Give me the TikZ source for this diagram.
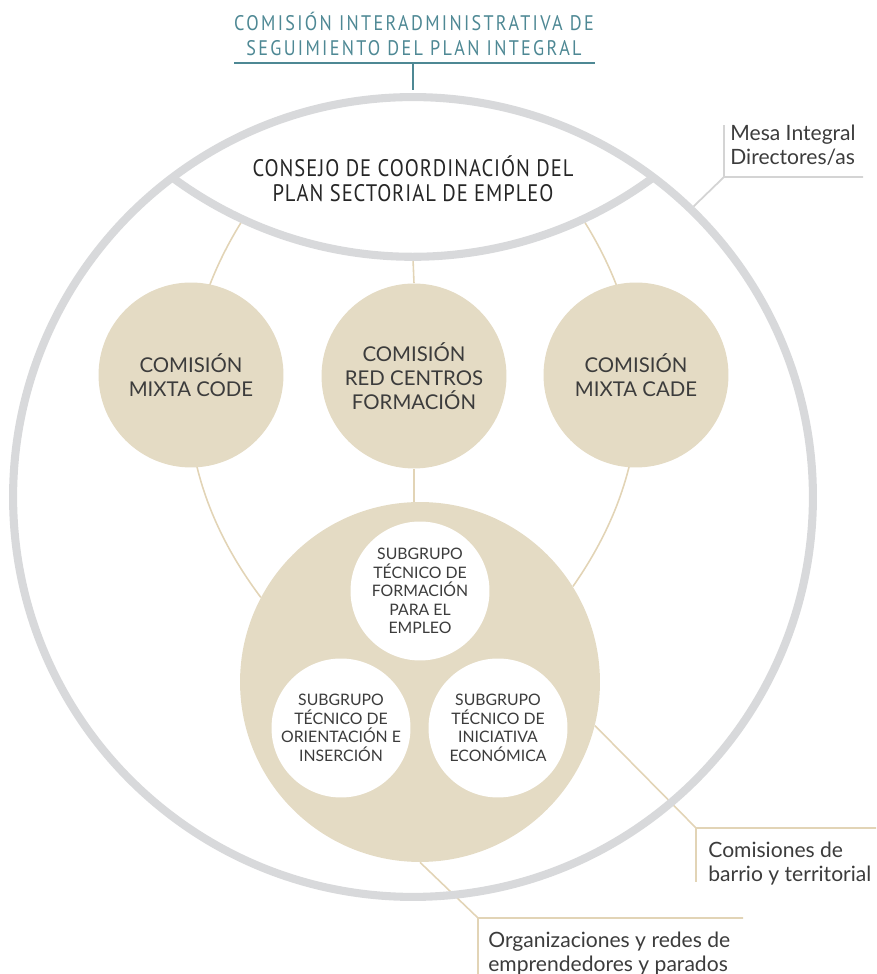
\documentclass[tikz,border=0pt]{standalone}
\usepackage{fontspec}
\setmainfont{Lato}
\newfontfamily\titlefont[FakeStretch=0.86, LetterSpace=11]{PT Sans}
\newfontfamily\dinfont[FakeStretch=0.86, LetterSpace=4]{PT Sans}
\usetikzlibrary{backgrounds}

\definecolor{sand}{RGB}{228,219,196}
\definecolor{sandline}{RGB}{226,212,182}
\definecolor{ringgray}{RGB}{216,217,219}
\definecolor{notegray}{RGB}{212,212,212}
\definecolor{cisteal}{RGB}{78,136,148}
\definecolor{txtgray}{RGB}{60,60,60}

\tikzset{
  ring/.style={circle, draw=ringgray, line width=4.6pt, minimum size=16cm, inner sep=0pt},
  comision/.style={circle, fill=sand, minimum size=3.7cm, inner sep=0pt, align=center,
    text=txtgray, font=\fontsize{11.6}{13.6}\selectfont},
  grupo/.style={circle, fill=sand, minimum size=7.2cm, inner sep=0pt},
  subgrupo/.style={circle, fill=white, minimum size=2.78cm, inner sep=0pt, align=center,
    text=txtgray, font=\fontsize{9}{10.6}\selectfont},
  link/.style={draw=sandline, line width=0.9pt},
  sidenote/.style={anchor=north west, inner sep=0pt, align=left, text=txtgray,
    font=\fontsize{12}{13.6}\selectfont},
}

\begin{document}
\begin{tikzpicture}[x=0.02cm, y=0.02cm]
\useasboundingbox (0,0) rectangle (876,974);

% comisión interadministrativa
\node[font=\titlefont\fontsize{12}{14.7}\selectfont, text=cisteal, align=center] (cisp) at (414,940)
  {COMISIÓN INTERADMINISTRATIVA DE\\SEGUIMIENTO DEL PLAN INTEGRAL};
\draw[cisteal, line width=1.1pt] (234,911) -- (595,911);
\draw[cisteal, line width=1.1pt] (413,911) coordinate (cispC) -- (413,884);

% mesa integral and consejo
\node[ring] (ring) at (413,477) {};
\draw[draw=ringgray, line width=4.6pt] (173,796) arc[start angle=233.6, end angle=306.4, radius=404];
\node[font=\dinfont\fontsize{13.6}{14.3}\selectfont, text=black!85, align=center] (consejo) at (413,795)
  {CONSEJO DE COORDINACIÓN DEL\\PLAN SECTORIAL DE EMPLEO};
\coordinate (lensL) at (242,753);
\coordinate (lensM) at (413,715);
\coordinate (lensR) at (584,753);

% comisiones
\node[comision] (code) at (191,599) {COMISIÓN\\MIXTA CODE};
\node[comision] (red)  at (414,598) {COMISIÓN\\RED CENTROS\\FORMACIÓN};
\node[comision] (cade) at (636,599) {COMISIÓN\\MIXTA CADE};

% subgrupos técnicos
\node[grupo] (tecnico) at (420,292) {};
\node[subgrupo] (formacion)   at (420,383) {SUBGRUPO\\TÉCNICO DE\\FORMACIÓN\\PARA EL\\EMPLEO};
\node[subgrupo] (orientacion) at (341,246) {SUBGRUPO\\TÉCNICO DE\\ORIENTACIÓN E\\INSERCIÓN};
\node[subgrupo] (iniciativa)  at (498,246) {SUBGRUPO\\TÉCNICO DE\\INICIATIVA\\ECONÓMICA};

% side notes
\node[sidenote] (mesa)   at (730,849) {Mesa Integral\\Directores/as};
\node[sidenote] (barrio) at (708,132) {Comisiones de\\barrio y territorial};
\node[sidenote] (redes)  at (488,42)  {Organizaciones y redes de\\emprendedores y parados};

\draw[notegray, line width=1pt] (ring.46) -- (724,797) coordinate (mesaC) -- (863,797);
\draw[notegray, line width=1pt] (mesaC) -- (724,849);

\begin{scope}[on background layer]
\draw[link] (lensL) to[out=238, in=127] (tecnico.152);
\draw[link] (lensR) to[out=302, in=55] (tecnico.32);
\draw[link] (lensM) -- (red.north);
\draw[link] (red.south) -- (red.south |- tecnico.north);
\draw[link] (tecnico.346) -- (696,146) coordinate (barrioC) -- (876,146);
\draw[link] (barrioC) -- (696,92);
\draw[link] (tecnico.south) -- (478,56) coordinate (redesC) -- (743,56);
\draw[link] (redesC) -- (478,0);
\end{scope}
\end{tikzpicture}
\end{document}
